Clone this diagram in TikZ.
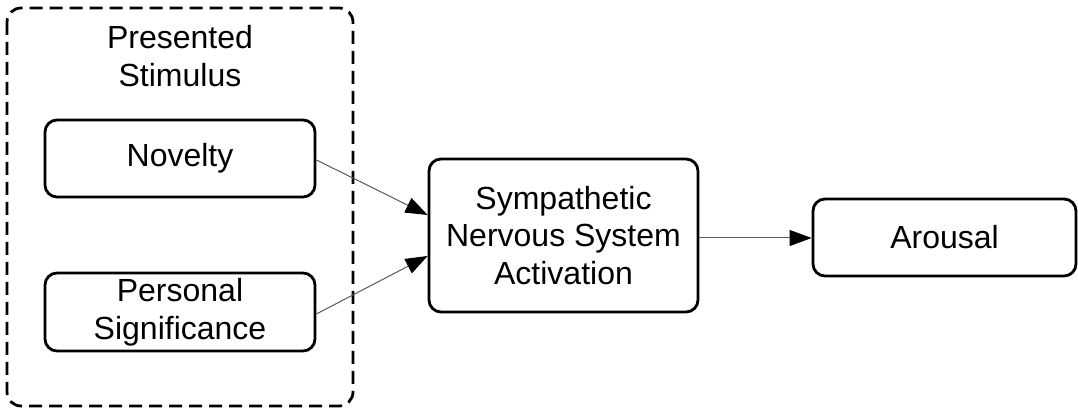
\documentclass[tikz,border=0pt]{standalone}
\usepackage{fontspec}
\setmainfont{Liberation Sans}
\usetikzlibrary{arrows.meta}
\begin{document}
\begin{tikzpicture}[x=0.5pt,y=-0.5pt,
  box/.style={draw=black, line width=1.4pt, rounded corners=6pt, inner sep=0pt, align=center,
    font=\fontsize{16pt}{18.8pt}\selectfont},
  grp/.style={draw=black, line width=1.4pt, rounded corners=7pt, dash pattern=on 6.5pt off 3.5pt},
  lbl/.style={inner sep=0pt, align=center, font=\fontsize{16pt}{18.8pt}\selectfont},
  conn/.style={draw=black!65, line width=0.5pt, -{Triangle[length=11pt,width=8pt,fill=black,color=black]}}
]
\useasboundingbox (0,0) rectangle (1078,410);
\draw[grp] (7,8) rectangle (353,406);
\node[lbl] (title) at (180,56) {Presented\\Stimulus};
\node[box, minimum width=135pt, minimum height=38.5pt] (nov) at (180,158.5) {Novelty};
\node[box, minimum width=135pt, minimum height=39pt] (per) at (180,312) {Personal\\Significance};
\node[box, minimum width=134.5pt, minimum height=76.5pt] (sns) at (563.5,235.5) {Sympathetic\\Nervous System\\Activation};
\node[box, minimum width=131.5pt, minimum height=38.5pt] (aro) at (944.5,237.5) {Arousal};
\draw[conn] (nov.east |- 0,160) -- (sns.west |- 0,215);
\draw[conn] (per.east |- 0,314) -- (sns.west |- 0,256);
\draw[conn] (sns.east |- 0,238) -- (aro.west |- 0,238);
\end{tikzpicture}
\end{document}
